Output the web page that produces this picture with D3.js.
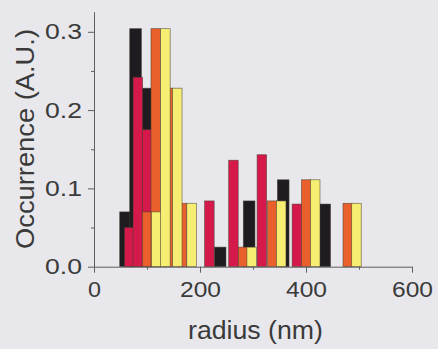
<!DOCTYPE html>
<html>
<head>
<meta charset="utf-8">
<script src="https://cdn.jsdelivr.net/npm/d3@7/dist/d3.min.js"></script>
<style>
  html, body { margin: 0; padding: 0; background: #e8e8ec; }
  svg { display: block; }
  text { font-family: "Liberation Sans", Arial, Helvetica, sans-serif; fill: #3a3a3a; }
</style>
</head>
<body>
<svg id="chart" width="438" height="349"></svg>
<script>
// ---- data ----
const blackRadius   = [59.5, 78.4, 100.1, 238.0, 292.7, 357.0, 435.3];
const blackValue    = [0.070, 0.304, 0.228, 0.025, 0.084, 0.111, 0.080];
const crimsonRadius = [66.5, 82.7, 100.1, 217.7, 263.1, 316.7, 382.8];
const crimsonValue  = [0.050, 0.242, 0.175, 0.084, 0.136, 0.143, 0.080];
const orangeRadius  = [100.1, 116.5, 139.8, 166.2, 281.4, 336.2, 400.4, 478.8];
const orangeValue   = [0.070, 0.304, 0.228, 0.081, 0.025, 0.084, 0.111, 0.081];
const yellowRadius  = [117.5, 134.7, 157.1, 184.1, 297.5, 353.2, 417.4, 495.2];
const yellowValue   = [0.070, 0.304, 0.228, 0.081, 0.025, 0.084, 0.111, 0.081];

const xMajorTicks = [0, 200, 400, 600];
const xMinorTicks = [100, 300, 500];
const yMajorTicks = [0.0, 0.1, 0.2, 0.3];
const yMinorTicks = [0.05, 0.15, 0.25];
const xTitle = "radius (nm)";
const yTitle = "Occurrence (A.U.)";

// ---- build ----
const series = [
  { r: blackRadius,   v: blackValue,   color: "#1e1c21", w: 22 },
  { r: crimsonRadius, v: crimsonValue, color: "#d5194a", w: 18 },
  { r: orangeRadius,  v: orangeValue,  color: "#e9602c", w: 18 },
  { r: yellowRadius,  v: yellowValue,  color: "#f6ee72", w: 18 }
];

const svg = d3.select("#chart");
const x = d3.scaleLinear().domain([0, 600]).range([94, 412]);
const y = d3.scaleLinear().domain([0, 0.3]).range([266.7, 31.8]);
const yTop = y.invert(11.7);
const yAxisScale = d3.scaleLinear().domain([0, yTop]).range([266.7, 11.7]);

// bars
series.forEach(s => {
  svg.append("g").selectAll("rect")
    .data(s.r.map((r, i) => ({ r, v: s.v[i] })))
    .join("rect")
    .attr("x", d => x(d.r - s.w / 2))
    .attr("width", d => x(d.r + s.w / 2) - x(d.r - s.w / 2))
    .attr("y", d => y(d.v))
    .attr("height", d => y(0) - y(d.v))
    .attr("fill", s.color)
    .attr("stroke", "#4a3e33")
    .attr("stroke-opacity", 0.75)
    .attr("stroke-width", 0.7);
});

const axisColor = "#5e5e5e";

// x axis
const gx = svg.append("g").attr("transform", `translate(0,${y(0)})`)
  .call(d3.axisBottom(x).tickValues(xMajorTicks).tickFormat(d3.format("d"))
        .tickSize(6).tickPadding(8.5).tickSizeOuter(0));
gx.append("g").call(d3.axisBottom(x).tickValues(xMinorTicks).tickFormat("")
        .tickSize(3).tickSizeOuter(0))
  .select(".domain").remove();
gx.selectAll("text")
  .attr("font-size", 22)
  .attr("textLength", d => d === 0 ? 13 : 41)
  .attr("lengthAdjust", "spacingAndGlyphs");

// y axis
const gy = svg.append("g").attr("transform", `translate(${x(0)},0)`)
  .call(d3.axisLeft(yAxisScale).tickValues(yMajorTicks).tickFormat(d3.format(".1f"))
        .tickSize(6).tickPadding(6).tickSizeOuter(0));
gy.append("g").call(d3.axisLeft(yAxisScale).tickValues(yMinorTicks).tickFormat("")
        .tickSize(3).tickSizeOuter(0))
  .select(".domain").remove();
gy.selectAll("text")
  .attr("font-size", 22)
  .attr("textLength", 37)
  .attr("lengthAdjust", "spacingAndGlyphs");

svg.selectAll(".domain, .tick line").attr("stroke", axisColor).attr("stroke-width", 1);
svg.selectAll(".tick text").attr("fill", "#3a3a3a").attr("font-family", "Liberation Sans, Arial, sans-serif");

// titles
svg.append("text")
  .attr("x", 255.5).attr("y", 339)
  .attr("text-anchor", "middle")
  .attr("font-size", 26)
  .attr("textLength", 135).attr("lengthAdjust", "spacingAndGlyphs")
  .text(xTitle);

svg.append("text")
  .attr("transform", "translate(34,139) rotate(-90)")
  .attr("text-anchor", "middle")
  .attr("font-size", 26)
  .attr("textLength", 220).attr("lengthAdjust", "spacingAndGlyphs")
  .text(yTitle);
</script>
</body>
</html>
